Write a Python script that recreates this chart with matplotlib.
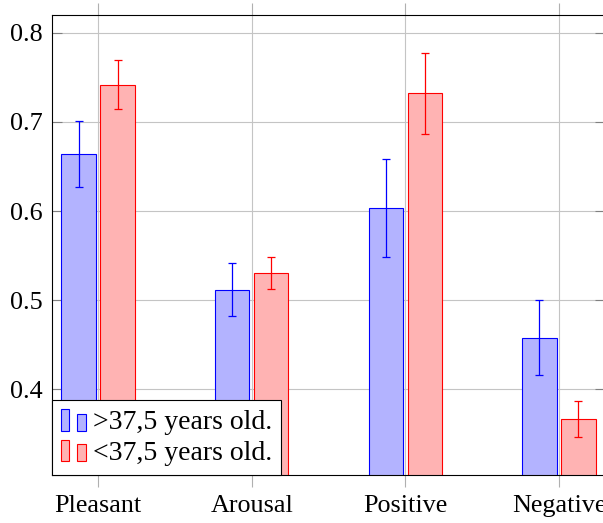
import numpy as np
import matplotlib
matplotlib.use("Agg")
import matplotlib.pyplot as plt
from matplotlib.patches import Rectangle
from matplotlib.legend_handler import HandlerBase

categories = ["Pleasant", "Arousal", "Positive", "Negative"]
older = [0.664, 0.512, 0.603, 0.458]
older_err = [0.037, 0.030, 0.055, 0.042]
younger = [0.742, 0.531, 0.732, 0.367]
younger_err = [0.028, 0.018, 0.045, 0.020]
labels = [">37,5 years old.", "<37,5 years old."]
yticks = [0.4, 0.5, 0.6, 0.7, 0.8]

plt.rcParams["font.family"] = ["Liberation Serif", "DejaVu Serif"]


class TwoBars(HandlerBase):
    # pgfplots style ybar legend: two small bars of different height
    def create_artists(self, legend, orig_handle, xdescent, ydescent,
                       width, height, fontsize, trans):
        fc = orig_handle.get_facecolor()
        ec = orig_handle.get_edgecolor()
        w = width * 0.33
        r1 = Rectangle((-xdescent, -ydescent), w, height,
                       facecolor=fc, edgecolor=ec, lw=0.8, transform=trans)
        r2 = Rectangle((-xdescent + width * 0.64, -ydescent), w, height * 0.78,
                       facecolor=fc, edgecolor=ec, lw=0.8, transform=trans)
        return [r1, r2]


fig = plt.figure(figsize=(6.03, 5.23), dpi=100)
ax = fig.add_axes([52 / 603, 48 / 523, 553 / 603, 460 / 523])

x = np.arange(len(categories))
off = 0.127
w = 0.225
err_kw = dict(elinewidth=0.9, capsize=3.2, capthick=0.9)
b1 = ax.bar(x - off, older, w, yerr=older_err, color="#b3b3ff",
            edgecolor="blue", lw=0.8, error_kw=dict(ecolor="blue", **err_kw))
b2 = ax.bar(x + off, younger, w, yerr=younger_err, color="#ffb3b3",
            edgecolor="red", lw=0.8, error_kw=dict(ecolor="red", **err_kw))

ax.set_xlim(-0.3, 3.3)
ax.set_ylim(0.304, 0.820)
ax.set_xticks(x)
ax.set_xticklabels(categories)
ax.set_yticks(yticks)
ax.set_yticklabels([f"{v:.1f}" for v in yticks])
ax.set_axisbelow(True)
ax.grid(True, color="#c4c4c4", lw=0.8)
ax.tick_params(axis="y", direction="in", length=7.5, width=0.8, color="#808080",
               left=True, right=True, labelsize=18.8, pad=6.5)
ax.tick_params(axis="x", direction="out", length=8.5, width=0.8, color="#b0b0b0",
               top=True, bottom=True, labelsize=18.8, pad=6)
for s in ax.spines.values():
    s.set_linewidth(0.8)

leg = ax.legend([b1.patches[0], b2.patches[0]], labels,
                handler_map={Rectangle: TwoBars()},
                loc="lower left", borderaxespad=0, fontsize=20,
                fancybox=False, framealpha=1, edgecolor="black",
                handlelength=0.92, handleheight=0.83, handletextpad=0.22,
                labelspacing=0.15, borderpad=0.32)
leg.get_frame().set_linewidth(0.8)

fig.savefig("out.png", dpi=100)
